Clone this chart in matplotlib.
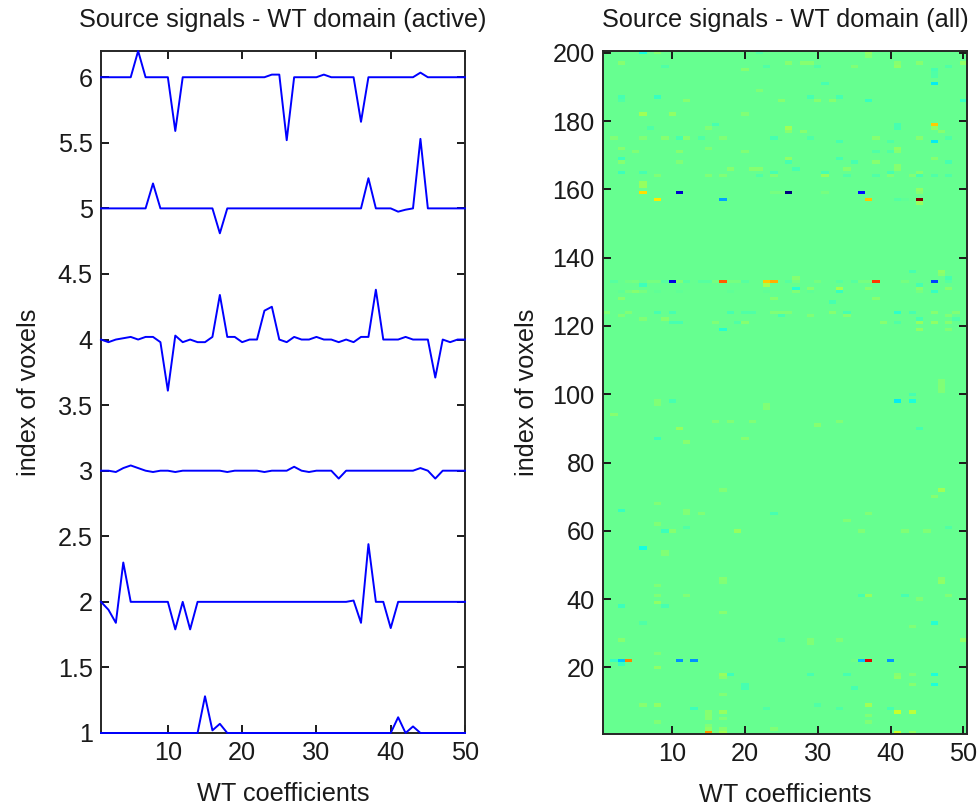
import numpy as np
import matplotlib
matplotlib.use("Agg")
import matplotlib.pyplot as plt

plt.rcParams['font.family'] = ['Liberation Sans', 'DejaVu Sans']

# ---------------- data ----------------
coef = list(range(1, 51))

line1 = [1.0]*14 + [1.28, 1.02, 1.07] + [1.0]*23 + [1.12, 1.0, 1.05] + [1.0]*7

line2 = [2.0, 1.94, 1.84, 2.30, 2.0, 2.0, 2.0, 2.0, 2.0, 2.0,
         1.79, 2.0, 1.79, 2.0, 2.0, 2.0, 2.0, 2.0, 2.0, 2.0,
         2.0, 2.0, 2.0, 2.0, 2.0, 2.0, 2.0, 2.0, 2.0, 2.0,
         2.0, 2.0, 2.0, 2.0, 2.01, 1.84, 2.44, 2.0, 2.0, 1.80,
         2.0, 2.0, 2.0, 2.0, 2.0, 2.0, 2.0, 2.0, 2.0, 2.0]

line3 = [3.0, 3.0, 2.99, 3.02, 3.04, 3.02, 3.0, 2.99, 3.0, 3.0,
         2.99, 3.0, 3.0, 3.0, 3.0, 3.0, 3.0, 2.99, 3.0, 3.0,
         3.0, 3.0, 2.99, 3.0, 3.0, 3.0, 3.03, 3.0, 2.99, 3.0,
         3.0, 3.0, 2.94, 3.0, 3.0, 3.0, 3.0, 3.0, 3.0, 3.0,
         3.0, 3.0, 3.0, 3.02, 3.0, 2.94, 3.0, 3.0, 3.0, 3.0]

line4 = [4.0, 3.98, 4.0, 4.01, 4.02, 4.0, 4.02, 4.02, 3.98, 3.61,
         4.03, 3.98, 4.0, 3.98, 3.98, 4.02, 4.34, 4.02, 4.02, 3.98,
         4.0, 4.0, 4.22, 4.25, 4.0, 3.98, 4.02, 4.0, 4.0, 4.02,
         4.0, 4.0, 3.98, 4.0, 3.98, 4.02, 4.02, 4.38, 4.0, 4.0,
         4.0, 4.02, 4.0, 4.0, 4.0, 3.71, 4.0, 3.98, 4.0, 4.0]

line5 = [5.0]*7 + [5.19] + [5.0]*8 + [4.81] + [5.0]*19 + [5.23, 5.0, 5.0, 5.0,
         4.975, 4.99, 5.0, 5.53] + [5.0]*6

line6 = [6.0]*5 + [6.2] + [6.0]*4 + [5.59] + [6.0]*12 + [6.02, 6.02, 5.52] + \
        [6.0]*4 + [6.02] + [6.0]*4 + [5.66] + [6.0]*7 + [6.035] + [6.0]*6

lines = [line1, line2, line3, line4, line5, line6]
offsets = [1, 2, 3, 4, 5, 6]
active_rows = [1, 22, 130, 133, 157, 159]

# faint non-zero cells in the full WT-domain map (row, column, value)
noise_rows = [200, 200, 200, 200, 199, 197, 196, 195, 196, 197, 197, 197, 196, 196, 196, 197, 197,
              195, 194, 193, 191, 196, 197, 191, 189, 187, 186, 187, 186, 186, 187, 186, 186, 187,
              186, 186, 182, 182, 182, 178, 179, 178, 178, 177, 177, 179, 178, 179, 178, 177, 174,
              175, 175, 175, 175, 175, 175, 175, 175, 175, 174, 175, 174, 175, 175, 172, 171, 169,
              171, 172, 171, 169, 169, 171, 171, 172, 171, 169, 168, 165, 165, 168, 166, 166, 166,
              165, 168, 166, 165, 166, 168, 168, 165, 167, 166, 165, 168, 162, 161, 164, 164, 164,
              164, 164, 164, 164, 164, 164, 164, 164, 164, 164,
              160, 156, 136, 136, 135, 134, 132, 132, 134, 131, 131, 131, 131, 132, 131, 131, 128,
              128, 128, 127, 124, 124, 124, 124, 124, 124, 124, 124, 124, 124, 124, 124, 124, 124,
              124, 124, 123, 123, 123, 123, 123, 122, 122, 122, 122, 121, 121, 121, 121, 121, 121,
              121, 121, 121, 121, 119, 119, 119,
              104, 103, 102, 101, 100, 98, 98, 98, 97, 98, 94, 97, 96, 92, 92, 92, 91, 92, 90, 90,
              87, 87, 86,
              72, 70, 72, 68, 66, 66, 65, 65, 65, 65, 63, 62, 60, 60, 61, 60, 60, 60, 60, 61, 55,
              54, 53, 46, 45, 46, 45, 44, 41, 41, 41, 41, 41, 40, 41, 38, 39, 38,
              36, 33, 33, 32, 28, 28, 28, 27, 28, 28, 24, 21, 20, 18, 18, 17, 15, 14, 18, 18, 14,
              18, 17, 18, 15, 18, 15, 12, 9, 9, 9, 9, 8, 8, 8, 8, 7, 6, 5, 7, 5, 7, 7, 6, 4, 4, 3,
              2, 2, 2]
noise_cols = [6, 8, 22, 37, 37, 3, 9, 20, 23, 26, 28, 29, 30, 35, 41, 41, 44,
              46, 46, 46, 46, 48, 50, 31, 22, 3, 3, 8, 12, 25, 29, 30, 32, 33,
              37, 50, 6, 10, 20, 7, 16, 15, 26, 26, 28, 41, 41, 46, 46, 47, 46,
              2, 6, 9, 11, 12, 14, 17, 24, 29, 33, 38, 40, 44, 48, 3, 5, 3,
              11, 15, 20, 26, 33, 38, 40, 41, 41, 46, 3, 3, 6, 11, 18, 21, 22,
              24, 26, 27, 31, 34, 35, 38, 40, 41, 41, 44, 48, 6, 6, 8, 15, 17,
              22, 24, 31, 34, 38, 40, 43, 44, 46, 48,
              44, 44, 43, 47, 47, 48, 6, 23, 27, 27, 29, 33, 37, 44, 44, 48, 3,
              24, 38, 32, 1, 4, 8, 10, 18, 20, 21, 24, 25, 26, 32, 34, 41, 43,
              46, 49, 3, 25, 29, 34, 48, 6, 9, 44, 49, 10, 11, 16, 19, 20, 39,
              41, 44, 46, 48, 17, 44, 48,
              47, 47, 47, 47, 43, 41, 43, 8, 8, 10, 2, 23, 23, 16, 18, 21, 30, 33, 11, 44,
              8, 20, 12,
              47, 46, 17, 8, 3, 12, 12, 14, 24, 37, 34, 8, 9, 10, 12, 19, 36, 42, 45, 48, 6,
              9, 9, 17, 17, 47, 47, 8, 8, 12, 36, 37, 42, 44, 48, 3, 8, 9,
              17, 6, 46, 43, 3, 25, 29, 29, 33, 50, 8, 3, 8, 18, 17, 17, 20, 20, 29, 34, 35,
              41, 41, 43, 43, 46, 46, 17, 6, 8, 37, 30, 13, 23, 33, 40, 15, 15, 15, 17, 17, 41,
              43, 37, 8, 37, 15, 15, 24, 17]
noise_vals = [-0.10, 0.04, -0.03, 0.05, 0.04, 0.04, -0.03, 0.04, -0.03, 0.04, 0.04, 0.04, -0.03,
              0.03, 0.05, 0.04, 0.04, -0.04, -0.03, -0.03, -0.12, -0.03, 0.05, -0.04, 0.03,
              -0.04, -0.03, -0.06, 0.04, 0.04, -0.04, 0.04, 0.04, -0.04, -0.06, -0.06, 0.07,
              0.05, 0.03, -0.03, -0.04, 0.03, 0.07, 0.04, 0.04, -0.04, -0.04, 0.22, 0.05, 0.04,
              -0.12, 0.03, 0.03, 0.04, -0.04, 0.04, -0.03, 0.03, -0.04, -0.03, -0.04, 0.04,
              -0.03, 0.04, -0.03, 0.04, 0.03, -0.05, 0.04, 0.03, 0.03, 0.05, -0.04, -0.03,
              -0.03, 0.05, 0.04, 0.04, 0.04, -0.05, -0.04, 0.03, 0.04, 0.04, 0.04, -0.04,
              -0.04, -0.04, -0.04, 0.04, -0.04, 0.04, -0.04, 0.04, 0.04, 0.04, -0.04, 0.06,
              0.06, 0.03, 0.03, 0.03, -0.03, 0.03, 0.06, -0.03, -0.03, 0.03, 0.03, -0.04,
              -0.03, -0.03,
              0.05, 0.06, -0.04, 0.05, 0.04, -0.04, -0.05, 0.08, 0.04, -0.08, 0.04, 0.08, 0.04,
              -0.04, 0.04, 0.04, 0.04, 0.04, 0.04, -0.04, 0.03, 0.03, -0.04, -0.04, -0.04,
              -0.03, -0.03, 0.03, 0.03, 0.03, 0.04, -0.04, -0.07, -0.04, 0.04, 0.03, 0.03,
              -0.04, 0.03, 0.04, 0.03, 0.03, 0.04, -0.04, -0.03, -0.04, -0.04, 0.03, -0.03,
              0.04, 0.04, -0.03, 0.06, 0.05, 0.04, -0.08, 0.05, 0.03,
              0.03, 0.03, 0.03, 0.03, -0.04, -0.12, -0.09, 0.03, 0.03, -0.04, 0.04, 0.03, 0.03,
              0.03, 0.03, 0.03, 0.04, 0.03, 0.06, -0.04, -0.05, 0.04, 0.04,
              0.07, 0.04, 0.03, 0.03, -0.06, 0.03, 0.03, 0.03, -0.04, 0.03, 0.03, 0.03, -0.05,
              0.04, -0.03, 0.06, 0.03, 0.03, 0.03, -0.03, -0.10, 0.03, 0.03, 0.04, 0.03, 0.04,
              0.05, 0.03, 0.03, 0.03, -0.04, 0.06, -0.04, 0.03, 0.03, -0.05, 0.05, -0.04,
              0.04, -0.03, -0.08, 0.03, 0.04, -0.03, 0.03, 0.03, 0.03, 0.05, 0.03, -0.06, 0.05,
              -0.05, 0.06, 0.04, -0.04, -0.04, -0.04, -0.04, -0.04, 0.04, 0.05, 0.03, 0.04,
              -0.09, -0.09, 0.03, 0.04, 0.05, 0.07, -0.03, -0.05, -0.03, -0.03, -0.04, 0.04,
              0.04, 0.04, 0.06, 0.03, 0.12, 0.10, 0.03, 0.03, 0.03, 0.03, 0.05, 0.03, 0.04]

x_ticks = [10, 20, 30, 40, 50]
left_yticks = [1, 1.5, 2, 2.5, 3, 3.5, 4, 4.5, 5, 5.5, 6]
left_yticklabels = ['1', '1.5', '2', '2.5', '3', '3.5', '4', '4.5', '5', '5.5', '6']
right_yticks = [20, 40, 60, 80, 100, 120, 140, 160, 180, 200]

# ---------------- build map ----------------
n_rows, n_cols = 200, 50
wt_map = np.zeros((n_rows, n_cols))
for r, c, v in zip(noise_rows, noise_cols, noise_vals):
    wt_map[r - 1, c - 1] = v
for row, ln, off in zip(active_rows, lines, offsets):
    wt_map[row - 1, :] = np.array(ln) - off

# ---------------- figure ----------------
W, H = 979, 808
fig = plt.figure(figsize=(W / 100, H / 100), dpi=100)
fs = 18.2
txt = '#1a1a1a'

ax1 = fig.add_axes([101 / W, 1 - 733 / H, 364 / W, 682 / H])
ax2 = fig.add_axes([603 / W, 1 - 734 / H, 364 / W, 683 / H])

for ln in lines:
    ax1.plot(coef, ln, color='#0000ff', lw=1.4, clip_on=False, zorder=3)
ax1.set_xlim(1, 50)
ax1.set_ylim(1, 6.2)
ax1.set_xticks(x_ticks)
ax1.set_yticks(left_yticks)
ax1.set_yticklabels(left_yticklabels)
ax1.set_title('Source signals - WT domain (active)', fontsize=fs, pad=17, color=txt)
ax1.set_xlabel('WT coefficients', fontsize=fs, labelpad=12, color=txt)
ax1.set_ylabel('index of voxels', fontsize=fs, labelpad=12, color=txt)

ax2.imshow(wt_map, cmap='jet', origin='lower', aspect='auto', interpolation='nearest',
           extent=(0.5, n_cols + 0.5, 0.5, n_rows + 0.5))
ax2.set_xlim(0.5, n_cols + 0.5)
ax2.set_ylim(0.5, n_rows + 0.5)
ax2.set_xticks(x_ticks)
ax2.set_yticks(right_yticks)
ax2.set_title('Source signals - WT domain (all)', fontsize=fs, pad=17, color=txt)
ax2.set_xlabel('WT coefficients', fontsize=fs, labelpad=12, color=txt)
ax2.set_ylabel('index of voxels', fontsize=fs, labelpad=10, color=txt)

for ax in (ax1, ax2):
    ax.tick_params(direction='in', top=True, right=True, length=6, width=1.4,
                   labelsize=fs, pad=6, colors=txt)
    for s in ax.spines.values():
        s.set_linewidth(1.4)
        s.set_color('#262626')

fig.savefig('out.png', dpi=100)
